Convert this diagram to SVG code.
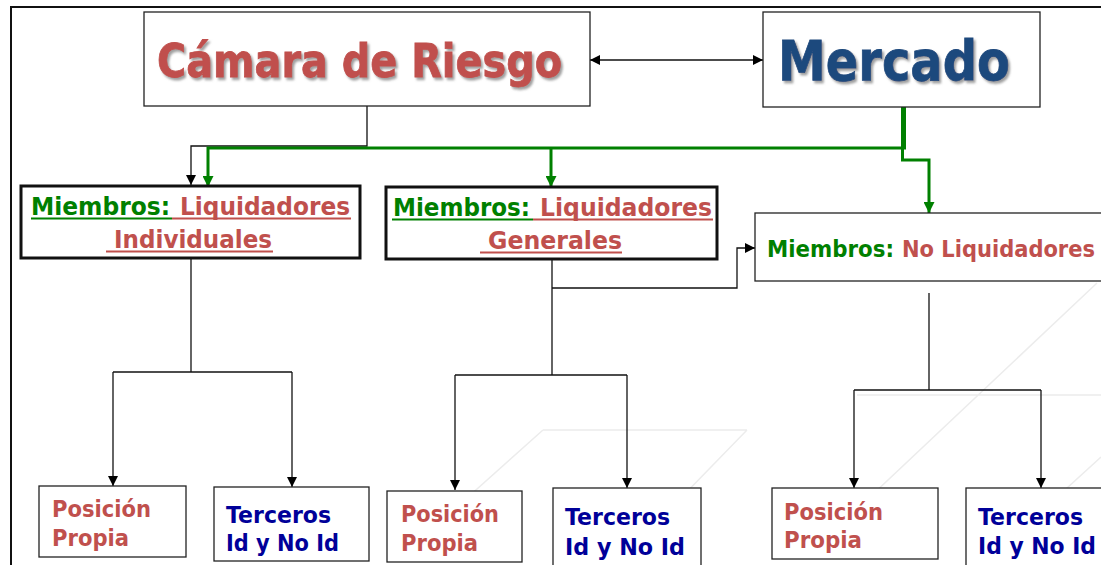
<svg xmlns="http://www.w3.org/2000/svg" width="1101" height="565" viewBox="0 0 1101 565">
<defs>
<style>
.box{fill:#fff;stroke:#222;stroke-width:1.3}
.thick{fill:#fff;stroke:#111;stroke-width:3}
.t{font-family:"DejaVu Sans","Liberation Sans",sans-serif;font-weight:bold}
.red{fill:#C0504D}
.grn{fill:#008000}
.blu{fill:#000099}
.con{fill:none;stroke:#111;stroke-width:1.3}
.gcon{fill:none;stroke:#008000;stroke-width:3}
.bg{fill:none;stroke:#ececec;stroke-width:1.5}
</style>
<marker id="ah" viewBox="0 0 10 10" refX="10" refY="5" markerWidth="10" markerHeight="10" markerUnits="userSpaceOnUse" orient="auto-start-reverse"><path d="M0,0 L10,5 L0,10 z" fill="#000"/></marker>
<marker id="gah" viewBox="0 0 10 10" refX="10" refY="5" markerWidth="11" markerHeight="11" markerUnits="userSpaceOnUse" orient="auto"><path d="M0,0 L10,5 L0,10 z" fill="#008000"/></marker>
<filter id="sh" x="-5%" y="-20%" width="115%" height="150%"><feDropShadow dx="2" dy="2.5" stdDeviation="1.2" flood-color="#777" flood-opacity="0.7"/></filter>
</defs>
<rect width="1101" height="565" fill="#fff"/>
<g id="background">
<path class="bg" d="M543 430 H747 M543 430 L420 540 M747 430 L640 540 M857 395 H1101 M1097 283 L853 513 M1101 457 L1010 540"/>
</g>
<rect x="11" y="7" width="1100" height="570" fill="none" stroke="#111" stroke-width="2"/>
<g id="connectors">
<path class="con" d="M590 60 H763" marker-start="url(#ah)" marker-end="url(#ah)"/>
<path class="con" d="M367 106 V146 H191 V185" marker-end="url(#ah)"/>
<path d="M903.5 107 V149" stroke="#008000" stroke-width="5" fill="none"/>
<path class="gcon" d="M906 148 H208 V187" marker-end="url(#gah)"/>
<path class="gcon" d="M551 148 V187" marker-end="url(#gah)"/>
<path class="gcon" d="M902.5 148 V160 H929 V213" marker-end="url(#gah)"/>
<path class="con" d="M191 258 V372"/>
<path class="con" d="M113 372 H292"/>
<path class="con" d="M113 372 V486" marker-end="url(#ah)"/>
<path class="con" d="M292 372 V487" marker-end="url(#ah)"/>
<path class="con" d="M552 259 V375" stroke-width="2"/>
<path class="con" d="M552 288 H737 V248 H755" marker-end="url(#ah)"/>
<path class="con" d="M455 375 H627"/>
<path class="con" d="M455 375 V490" marker-end="url(#ah)"/>
<path class="con" d="M627 375 V488" marker-end="url(#ah)"/>
<path class="con" d="M929 293 V390" stroke-width="2"/>
<path class="con" d="M854 390 H1041"/>
<path class="con" d="M854 390 V488" marker-end="url(#ah)"/>
<path class="con" d="M1041 390 V488" marker-end="url(#ah)"/>
</g>
<g id="camara">
<rect class="box" x="144" y="12" width="446" height="94"/>
<text class="t red" x="157" y="77" font-size="46" stroke="#C0504D" stroke-width="0.8" textLength="405" lengthAdjust="spacingAndGlyphs" filter="url(#sh)">Cámara de Riesgo</text>
</g>
<g id="mercado">
<rect class="box" x="763" y="12" width="277" height="95"/>
<text class="t" x="778" y="80" font-size="56" fill="#1F497D" stroke="#1F497D" stroke-width="0.8" textLength="232" lengthAdjust="spacingAndGlyphs" filter="url(#sh)">Mercado</text>
</g>
<g id="liq-individuales">
<rect class="thick" x="21" y="186" width="339" height="72"/>
<text class="t grn" x="31" y="215" font-size="24" textLength="139" lengthAdjust="spacingAndGlyphs">Miembros:</text>
<text class="t red" x="180" y="215" font-size="24" textLength="170" lengthAdjust="spacingAndGlyphs">Liquidadores</text>
<text class="t red" x="114" y="248" font-size="24" textLength="158" lengthAdjust="spacingAndGlyphs">Individuales</text>
<path d="M31 218.5 H172" stroke="#008000" stroke-width="2"/>
<path d="M172 218.5 H351" stroke="#C0504D" stroke-width="2"/>
<path d="M106 251.5 H273" stroke="#C0504D" stroke-width="2"/>
</g>
<g id="liq-generales">
<rect class="thick" x="386" y="187" width="331" height="72"/>
<text class="t grn" x="393" y="216" font-size="24" textLength="137" lengthAdjust="spacingAndGlyphs">Miembros:</text>
<text class="t red" x="540" y="216" font-size="24" textLength="172" lengthAdjust="spacingAndGlyphs">Liquidadores</text>
<text class="t red" x="488" y="249" font-size="24" textLength="134" lengthAdjust="spacingAndGlyphs">Generales</text>
<path d="M392 219.5 H533" stroke="#008000" stroke-width="2"/>
<path d="M533 219.5 H713" stroke="#C0504D" stroke-width="2"/>
<path d="M480 252.5 H622" stroke="#C0504D" stroke-width="2"/>
</g>
<g id="no-liquidadores">
<rect class="box" x="755" y="213" width="360" height="68"/>
<text class="t grn" x="767" y="257" font-size="23" textLength="127" lengthAdjust="spacingAndGlyphs">Miembros:</text>
<text class="t red" x="902" y="257" font-size="23" textLength="193" lengthAdjust="spacingAndGlyphs">No Liquidadores</text>
</g>
<g id="pp1">
<rect class="box" x="39" y="486" width="147" height="71"/>
<text class="t red" x="52" y="517" font-size="23" textLength="99" lengthAdjust="spacingAndGlyphs">Posición</text>
<text class="t red" x="52" y="546" font-size="23" textLength="77" lengthAdjust="spacingAndGlyphs">Propia</text>
</g>
<g id="t1">
<rect class="box" x="214" y="487" width="155" height="74"/>
<text class="t blu" x="226" y="523" font-size="23" textLength="105" lengthAdjust="spacingAndGlyphs">Terceros</text>
<text class="t blu" x="226" y="551" font-size="23" textLength="113" lengthAdjust="spacingAndGlyphs">Id y No Id</text>
</g>
<g id="pp2">
<rect class="box" x="387" y="491" width="135" height="71"/>
<text class="t red" x="401" y="522" font-size="23" textLength="98" lengthAdjust="spacingAndGlyphs">Posición</text>
<text class="t red" x="401" y="551" font-size="23" textLength="77" lengthAdjust="spacingAndGlyphs">Propia</text>
</g>
<g id="t2">
<rect class="box" x="553" y="488" width="148" height="90"/>
<text class="t blu" x="565" y="525" font-size="23" textLength="105" lengthAdjust="spacingAndGlyphs">Terceros</text>
<text class="t blu" x="565" y="555" font-size="23" textLength="120" lengthAdjust="spacingAndGlyphs">Id y No Id</text>
</g>
<g id="pp3">
<rect class="box" x="772" y="488" width="166" height="71"/>
<text class="t red" x="784" y="520" font-size="23" textLength="99" lengthAdjust="spacingAndGlyphs">Posición</text>
<text class="t red" x="784" y="548" font-size="23" textLength="78" lengthAdjust="spacingAndGlyphs">Propia</text>
</g>
<g id="t3">
<rect class="box" x="966" y="488" width="150" height="90"/>
<text class="t blu" x="978" y="525" font-size="23" textLength="105" lengthAdjust="spacingAndGlyphs">Terceros</text>
<text class="t blu" x="978" y="554" font-size="23" textLength="118" lengthAdjust="spacingAndGlyphs">Id y No Id</text>
</g>
</svg>
